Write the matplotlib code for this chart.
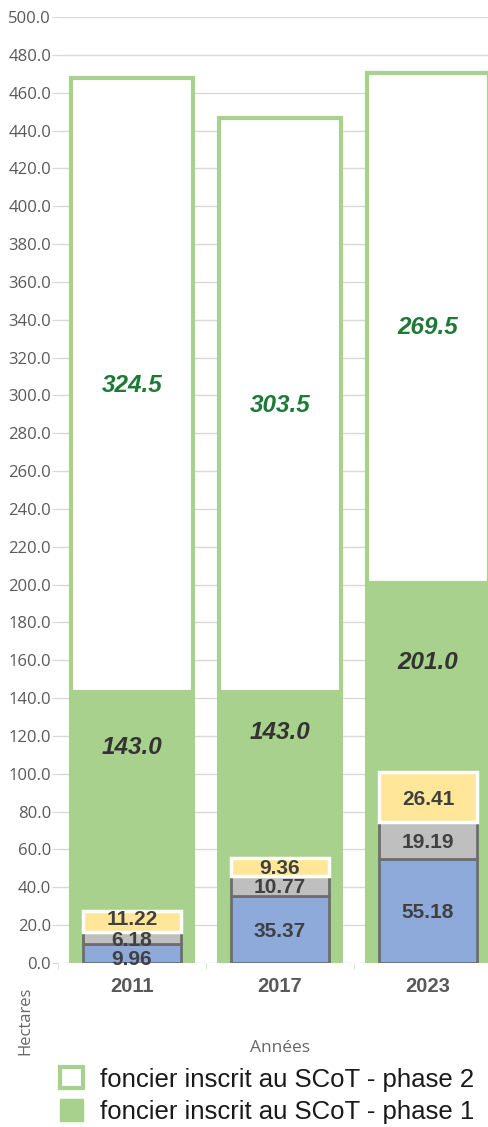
import matplotlib.pyplot as plt
from matplotlib.patches import Patch
from matplotlib.ticker import FixedLocator, FormatStrFormatter

plt.rcParams['font.family'] = ['Liberation Sans', 'DejaVu Sans']

# Foncier (hectares) par année
years = ['2011', '2017', '2023']
phase1 = [143.0, 143.0, 201.0]
phase2 = [324.5, 303.5, 269.5]
conso_blue = [9.96, 35.37, 55.18]
conso_grey = [6.18, 10.77, 19.19]
conso_yellow = [11.22, 9.36, 26.41]

# where the phase 1 value is written inside the green bar
phase1_label_y = [114, 122, 159]
# small vertical nudges (points) so the thin 2011 segments stay readable
blue_nudge = [-3, 0, 0]
yellow_nudge = [3, 0, 0]

GREEN = '#a9d18e'
DARK_GREEN = '#1d7a36'
TXT = '#404040'

fig = plt.figure(figsize=(4.88, 11.27), dpi=100)
ax = fig.add_axes([58 / 488, 164 / 1127, 444 / 488, 946 / 1127])

x = list(range(len(years)))

# phase 1 (filled) and phase 2 (outlined, stacked on phase 1)
ax.bar(x, phase1, width=0.855, color=GREEN, zorder=2)
ax.bar(x, phase2, bottom=phase1, width=0.82, facecolor='white',
       edgecolor=GREEN, linewidth=3, zorder=2)

# inner stacked bars
b2 = [a + b for a, b in zip(conso_blue, conso_grey)]
ax.bar(x, conso_blue, width=0.665, color='#8eaadb', edgecolor='#6e6e6e',
       linewidth=2, zorder=3)
ax.bar(x, conso_grey, bottom=conso_blue, width=0.665, color='#bfbfbf',
       edgecolor='#6e6e6e', linewidth=2, zorder=3)
ax.bar(x, conso_yellow, bottom=b2, width=0.665, color='#ffe699',
       edgecolor='white', linewidth=2.5, zorder=4)

small = dict(ha='center', va='center_baseline', fontsize=15,
             fontweight='bold', color=TXT, zorder=5,
             textcoords='offset points')
for i in x:
    ax.text(i, phase1[i] + phase2[i] / 2, f'{phase2[i]:.1f}', ha='center',
            va='center', fontsize=17.5, fontweight='bold', style='italic',
            color=DARK_GREEN, zorder=5)
    ax.text(i, phase1_label_y[i], f'{phase1[i]:.1f}', ha='center',
            va='center', fontsize=17.5, fontweight='bold', style='italic',
            color='#333333', zorder=5)
    ax.annotate(f'{conso_blue[i]:.2f}', (i, conso_blue[i] / 2),
                xytext=(0, blue_nudge[i]), **small)
    ax.annotate(f'{conso_grey[i]:.2f}', (i, conso_blue[i] + conso_grey[i] / 2),
                xytext=(0, 0), **small)
    ax.annotate(f'{conso_yellow[i]:.2f}', (i, b2[i] + conso_yellow[i] / 2),
                xytext=(0, yellow_nudge[i]), **small)

ax.set_xlim(-0.5, 2.5)
ax.set_ylim(0, 500)
ax.yaxis.set_major_locator(FixedLocator(range(0, 501, 20)))
ax.yaxis.set_major_formatter(FormatStrFormatter('%.1f'))
ax.grid(axis='y', color='#d9d9d9', linewidth=1, zorder=0)
ax.set_axisbelow(True)
for s in ax.spines.values():
    s.set_visible(False)

ax.set_xticks(x)
ax.set_xticklabels(years, fontsize=14.5, fontweight='bold', color='#595959')
ax.set_xticks([-0.5, 0.5, 1.5, 2.5], minor=True)
ax.tick_params(axis='x', which='major', length=0, pad=10)
ax.tick_params(axis='x', which='minor', length=4, color='#d9d9d9')
ax.tick_params(axis='y', length=4, color='#d9d9d9', labelsize=12,
               labelcolor='#595959', pad=1)
for lbl in ax.get_yticklabels():
    lbl.set_fontfamily('Open Sans')

fig.text(25 / 488, 1 - 1021 / 1127, 'Hectares', rotation=90, ha='center',
         va='center', fontsize=12, color='#666666', family='Open Sans')
fig.text(280 / 488, 1 - 1048 / 1127, 'Années', ha='center', va='center',
         fontsize=12.5, color='#666666', family='Open Sans')

handles = [Patch(facecolor='white', edgecolor=GREEN, linewidth=3,
                 label='foncier inscrit au SCoT - phase 2'),
           Patch(facecolor=GREEN, edgecolor=GREEN,
                 label='foncier inscrit au SCoT - phase 1')]
fig.legend(handles=handles, loc='upper left',
           bbox_to_anchor=(60 / 488, 1 - 1067 / 1127), frameon=False,
           fontsize=18.5, handlelength=0.9, handleheight=0.9,
           handletextpad=0.65, labelspacing=0.3, borderpad=0,
           borderaxespad=0, labelcolor='#1a1a1a')

fig.savefig('out.png', dpi=100)
